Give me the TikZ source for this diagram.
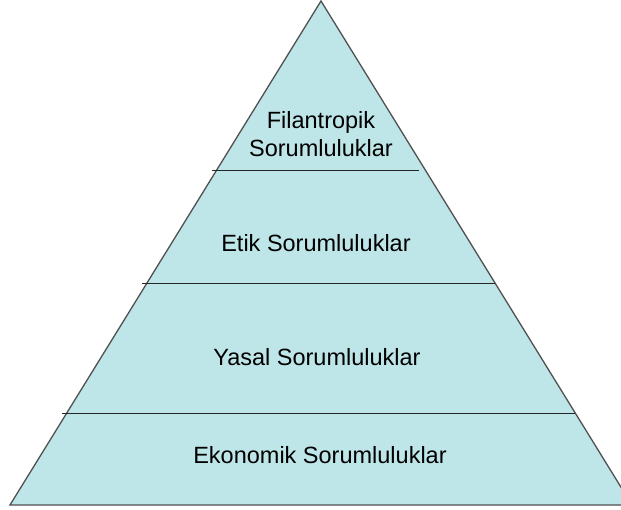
\documentclass[tikz,border=0pt]{standalone}
\usepackage{fontspec}
\setmainfont{Liberation Sans}
\definecolor{pyrfill}{RGB}{190,230,232}
\definecolor{pyredge}{RGB}{80,80,80}
\begin{document}
\begin{tikzpicture}[x=1pt,y=-1pt,
  lbl/.style={font=\fontsize{23.5}{28}\selectfont, align=center, inner sep=0pt},
  tier/.style={draw=black!85, line width=1pt}]
\useasboundingbox (0,0) rectangle (621,510);
\clip (0,0) rectangle (621,510);
\coordinate (apex) at (321,1);
\coordinate (bl) at (10,505);
\coordinate (br) at (632,505);
\fill[pyrfill] (apex) -- (bl) -- (br) -- cycle;
\draw[pyredge, line width=1.3pt, line join=miter] (apex) -- (bl) -- (br) -- cycle;
\coordinate (l1a) at (212,171); \coordinate (l1b) at (419,171);
\coordinate (l2a) at (142,284); \coordinate (l2b) at (495,284);
\coordinate (l3a) at (62,413);  \coordinate (l3b) at (575,413);
\draw[tier] (l1a) -- (l1b);
\draw[tier] (l2a) -- (l2b);
\draw[tier] (l3a) -- (l3b);
\node[lbl] (t1) at (321,134) {Filantropik\\Sorumluluklar};
\node[lbl] (t2) at (316,243) {Etik Sorumluluklar};
\node[lbl] (t3) at (317,357) {Yasal Sorumluluklar};
\node[lbl] (t4) at (320,455) {Ekonomik Sorumluluklar};
\end{tikzpicture}
\end{document}
